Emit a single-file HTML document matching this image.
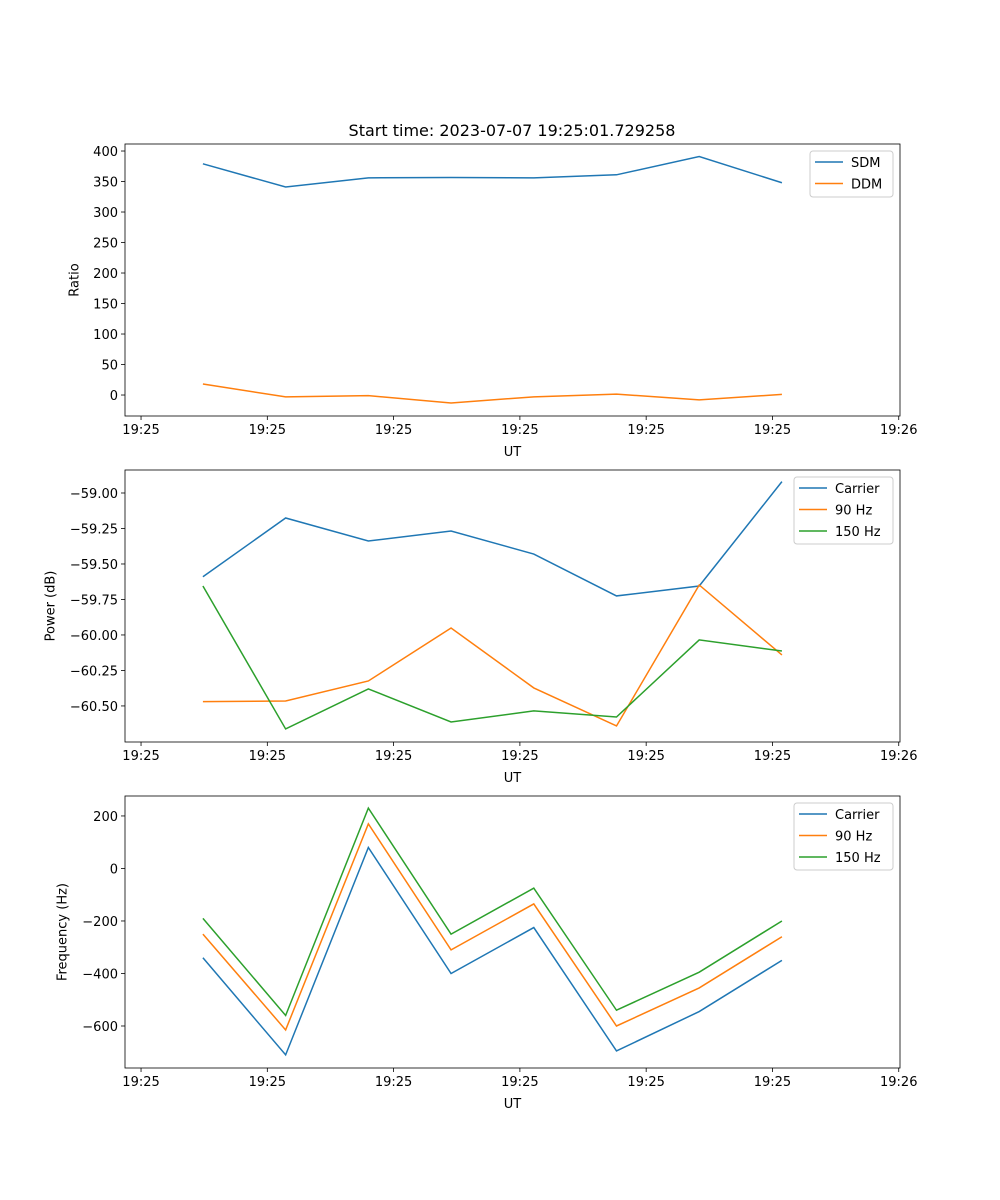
<!DOCTYPE html>
<html><head><meta charset="utf-8"><style>
body{margin:0;background:#fff;}
svg{display:block;font-family:"DejaVu Sans","Liberation Sans",sans-serif;}
</style></head><body>
<svg id="fig" width="1000" height="1200" xmlns="http://www.w3.org/2000/svg">
<rect width="1000" height="1200" fill="#fff"/>
<text x="512" y="136" font-size="16" text-anchor="middle">Start time: 2023-07-07 19:25:01.729258</text>
</svg>
<script>
const times = [4.9, 11.45, 18.0, 24.55, 31.1, 37.65, 44.2, 50.75];
const xTickVals = [0, 10, 20, 30, 40, 50, 60];
const xTickLabels = ["19:25","19:25","19:25","19:25","19:25","19:25","19:26"];
const sdm = [379, 341, 356, 356.5, 356, 361, 391, 348];
const ddm = [18, -3, -1, -13, -3, 1.5, -8, 1];
const powCarrier = [-59.59, -59.176, -59.338, -59.268, -59.43, -59.725, -59.655, -58.92];
const pow90 = [-60.47, -60.465, -60.324, -59.951, -60.373, -60.641, -59.648, -60.141];
const pow150 = [-59.655, -60.662, -60.38, -60.613, -60.535, -60.578, -60.035, -60.113];
const freqCarrier = [-340, -710, 80, -400, -225, -695, -545, -350];
const freq90 = [-250, -615, 170, -310, -135, -600, -455, -260];
const freq150 = [-190, -560, 230, -250, -75, -540, -395, -200];
const ticks1 = [0, 50, 100, 150, 200, 250, 300, 350, 400];
const ticks2 = [-60.5, -60.25, -60.0, -59.75, -59.5, -59.25, -59.0];
const ticks3 = [-600, -400, -200, 0, 200];

const NS = "http://www.w3.org/2000/svg";
const svg = document.getElementById("fig");
const L = 125, R = 900, xMin = -1.27, xMax = 60.1;
function xs(v){ return L + (v - xMin) / (xMax - xMin) * (R - L); }
function el(tag, attrs, parent){ const e = document.createElementNS(NS, tag); for (const k in attrs) e.setAttribute(k, attrs[k]); (parent||svg).appendChild(e); return e; }

function panel(top, bottom, yMin, yMax, yTicks, fmt, ylabel, lx, series, legend, name){
  const g = el("g", {});
  
  
  const ys = v => bottom - (v - yMin) / (yMax - yMin) * (bottom - top);
  xTickVals.forEach((t, i) => {
    const x = xs(t);
    el("line", {x1:x, x2:x, y1:bottom, y2:bottom+4, stroke:"#000", "stroke-width":0.8}, g);
    const tx = el("text", {x:x, y:bottom+18, "font-size":13, "text-anchor":"middle"}, g);
    tx.textContent = xTickLabels[i];
    
    
  });
  const xl = el("text", {x:(L+R)/2, y:bottom+40, "font-size":13, "text-anchor":"middle"}, g);
  xl.textContent = "UT";
  
  
  yTicks.forEach(t => {
    const y = ys(t);
    el("line", {x1:L-4, x2:L, y1:y, y2:y, stroke:"#000", "stroke-width":0.8}, g);
    const tx = el("text", {x:L-7, y:y+5, "font-size":13, "text-anchor":"end"}, g);
    tx.textContent = fmt(t);
    
    
  });
  const cy = (top+bottom)/2;
  const yl = el("text", {x:lx, y:cy, "font-size":13, "text-anchor":"middle", "dominant-baseline":"central", transform:`rotate(-90 ${lx} ${cy})`}, g);
  yl.textContent = ylabel;
  
  
  series.forEach(s => {
    const p = el("polyline", {points: s.data.map((v,i)=>xs(times[i])+","+ys(v)).join(" "), fill:"none", stroke:s.color, "stroke-width":1.5}, g);
    
    
  });
  el("rect", {x:L, y:top, width:R-L, height:bottom-top, fill:"none", stroke:"#000", "stroke-width":0.8}, g);
  const lg = el("g", {}, g);
  
  
  el("rect", {x:legend.x, y:top+7, width:legend.w, height:series.length*21+4, rx:3, fill:"#fff", "fill-opacity":0.8, stroke:"#ccc"}, lg);
  series.forEach((s, i) => {
    const y = top + 18 + i*21.5;
    el("line", {x1:legend.x+5, x2:legend.x+33, y1:y, y2:y, stroke:s.color, "stroke-width":1.5}, lg);
    const t = el("text", {x:legend.x+41, y:y+5, "font-size":13}, lg);
    t.textContent = s.label;
    
    
  });
}
const C = ["#1f77b4", "#ff7f0e", "#2ca02c"];
panel(144, 416, -34.4, 411.5, ticks1, v => String(v), "Ratio", 75,
  [{data:sdm, color:C[0], label:"SDM"}, {data:ddm, color:C[1], label:"DDM"}], {x:810, w:83}, "ratio-panel");
panel(470, 742, -60.754, -58.838, ticks2, v => (v<0?"\u2212":"") + Math.abs(v).toFixed(2), "Power (dB)", 51,
  [{data:powCarrier, color:C[0], label:"Carrier"}, {data:pow90, color:C[1], label:"90 Hz"}, {data:pow150, color:C[2], label:"150 Hz"}], {x:794, w:99}, "power-panel");
panel(796, 1068, -760, 276, ticks3, v => (v<0?"\u2212":"") + Math.abs(v), "Frequency (Hz)", 63,
  [{data:freqCarrier, color:C[0], label:"Carrier"}, {data:freq90, color:C[1], label:"90 Hz"}, {data:freq150, color:C[2], label:"150 Hz"}], {x:794, w:99}, "frequency-panel");
</script>
</body></html>
